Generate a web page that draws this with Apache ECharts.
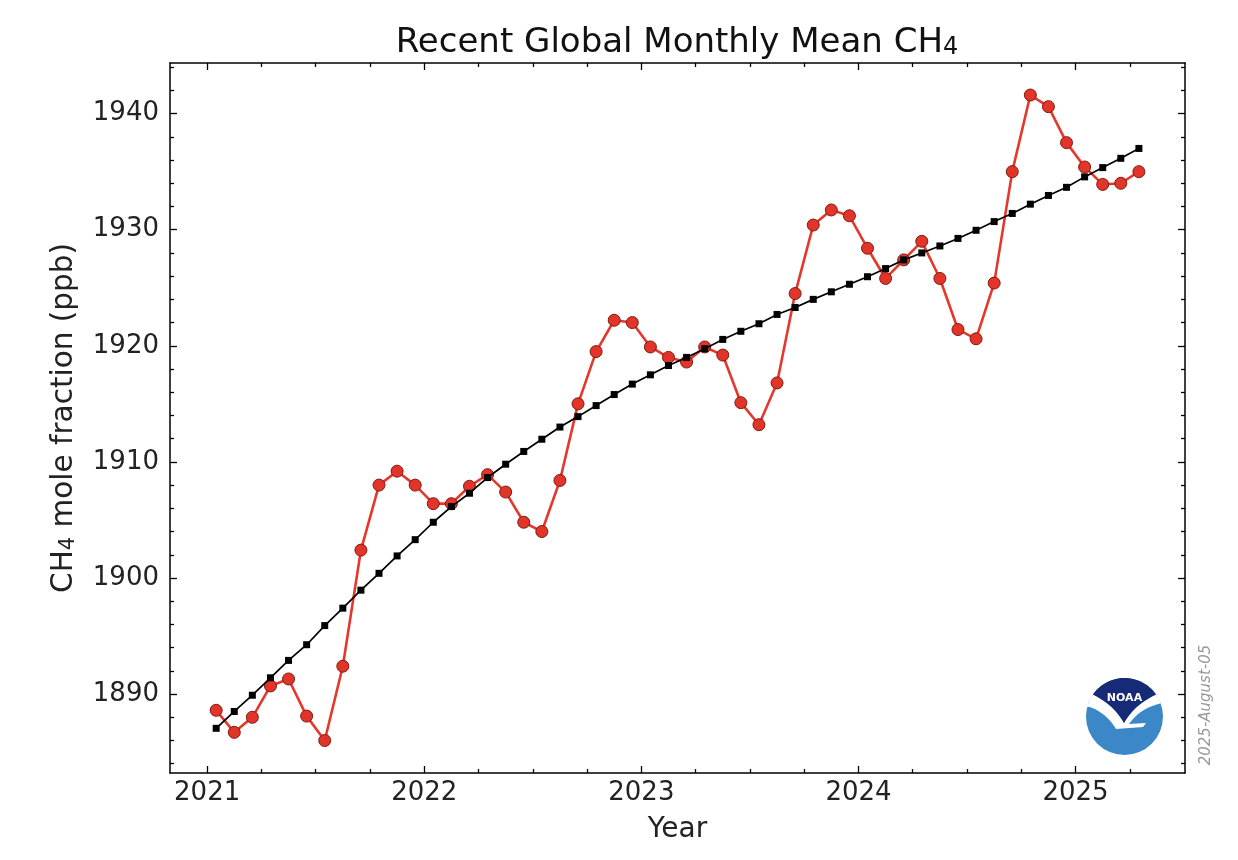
<!DOCTYPE html>
<html>
<head>
<meta charset="utf-8">
<script src="https://cdn.jsdelivr.net/npm/echarts@6/dist/echarts.min.js"></script>
<style>
html,body{margin:0;padding:0;background:#fff;}
#chart{width:1238px;height:860px;}
</style>
</head>
<body>
<div id="chart"></div>
<script>
// Months (Jan 2021 – Apr 2025)
const months = [
  '2021-01','2021-02','2021-03','2021-04','2021-05','2021-06','2021-07','2021-08','2021-09','2021-10','2021-11','2021-12',
  '2022-01','2022-02','2022-03','2022-04','2022-05','2022-06','2022-07','2022-08','2022-09','2022-10','2022-11','2022-12',
  '2023-01','2023-02','2023-03','2023-04','2023-05','2023-06','2023-07','2023-08','2023-09','2023-10','2023-11','2023-12',
  '2024-01','2024-02','2024-03','2024-04','2024-05','2024-06','2024-07','2024-08','2024-09','2024-10','2024-11','2024-12',
  '2025-01','2025-02','2025-03','2025-04'
];
// Monthly mean CH4 (ppb) – red circles
const monthlyMean = [
  1888.6, 1886.7, 1888.0, 1890.7, 1891.3, 1888.1, 1886.0, 1892.4, 1902.4, 1908.0, 1909.2, 1908.0,
  1906.4, 1906.4, 1907.9, 1908.9, 1907.4, 1904.8, 1904.0, 1908.4, 1915.0, 1919.5, 1922.2, 1922.0,
  1919.9, 1919.0, 1918.6, 1919.9, 1919.2, 1915.1, 1913.2, 1916.8, 1924.5, 1930.4, 1931.7, 1931.2,
  1928.4, 1925.8, 1927.4, 1929.0, 1925.8, 1921.4, 1920.6, 1925.4, 1935.0, 1941.6, 1940.6, 1937.5,
  1935.4, 1933.9, 1934.0, 1935.0
];
// Deseasonalized trend (ppb) – black squares
const trend = [
  1887.05, 1888.5, 1889.9, 1891.4, 1892.9, 1894.25, 1895.9, 1897.4, 1898.95, 1900.4, 1901.9, 1903.3,
  1904.8, 1906.15, 1907.3, 1908.65, 1909.8, 1910.9, 1911.95, 1913.0, 1913.9, 1914.85, 1915.8, 1916.7,
  1917.5, 1918.3, 1919.0, 1919.75, 1920.55, 1921.25, 1921.9, 1922.7, 1923.3, 1924.0, 1924.65, 1925.3,
  1925.95, 1926.65, 1927.4, 1928.0, 1928.6, 1929.25, 1929.95, 1930.7, 1931.4, 1932.2, 1932.95, 1933.65,
  1934.55, 1935.35, 1936.15, 1937.0
];
const xTickLabels = [2021, 2022, 2023, 2024, 2025];
const xMinorTicks = [2021.25, 2021.5, 2021.75, 2022.25, 2022.5, 2022.75, 2023.25, 2023.5, 2023.75, 2024.25, 2024.5, 2024.75, 2025.25];
const yTickLabels = [1890, 1900, 1910, 1920, 1930, 1940];
const yMinorTicks = [1884,1886,1888,1892,1894,1896,1898,1902,1904,1906,1908,1912,1914,1916,1918,1922,1924,1926,1928,1932,1934,1936,1938,1942,1944];

function toDecYear(s) {
  const p = s.split('-');
  return +p[0] + (+p[1] - 0.5) / 12;
}
const xs = months.map(toDecYear);
const redData = xs.map((x, i) => [x, monthlyMean[i]]);
const blackData = xs.map((x, i) => [x, trend[i]]);

const XMIN = 2020.829, XMAX = 2025.504, YMIN = 1883.2, YMAX = 1944.36;
const FONT = 'DejaVu Sans';
const frame = { show: true, onZero: false, lineStyle: { color: '#000', width: 1.5 } };

function xAx(pos, ticks, len, labels) {
  return {
    type: 'value', position: pos, min: XMIN, max: XMAX,
    axisLine: len > 5 ? frame : { show: false },
    axisTick: { show: true, inside: true, length: len, customValues: ticks, lineStyle: { color: '#000', width: 1.3 } },
    axisLabel: labels ? { show: true, customValues: ticks, formatter: v => String(Math.round(v)), fontFamily: FONT, fontSize: 26, color: '#222', margin: 7 } : { show: false },
    splitLine: { show: false }
  };
}
function yAx(pos, ticks, len, labels) {
  return {
    type: 'value', position: pos, min: YMIN, max: YMAX,
    axisLine: len > 5 ? frame : { show: false },
    axisTick: { show: true, inside: true, length: len, customValues: ticks, lineStyle: { color: '#000', width: 1.3 } },
    axisLabel: labels ? { show: true, customValues: ticks, formatter: v => String(Math.round(v)), fontFamily: FONT, fontSize: 26, color: '#222', margin: 11 } : { show: false },
    splitLine: { show: false }
  };
}

const xAxes = [
  Object.assign(xAx('bottom', xTickLabels, 7, true), {
    name: 'Year', nameLocation: 'middle', nameGap: 43,
    nameTextStyle: { fontFamily: FONT, fontSize: 28, color: '#222' }
  }),
  xAx('bottom', xMinorTicks, 4, false),
  xAx('top', xTickLabels, 7, false),
  xAx('top', xMinorTicks, 4, false)
];
const yAxes = [
  Object.assign(yAx('left', yTickLabels, 7, true), {
    name: '{a|CH}{s|4}{a| mole fraction (ppb)}', nameLocation: 'middle', nameGap: 91, nameRotate: 90,
    nameTextStyle: {
      fontFamily: FONT, color: '#222',
      rich: {
        a: { fontFamily: FONT, fontSize: 29.5, color: '#222' },
        s: { fontFamily: FONT, fontSize: 21, color: '#222', verticalAlign: 'bottom' }
      }
    }
  }),
  yAx('left', yMinorTicks, 4, false),
  yAx('right', yTickLabels, 7, false),
  yAx('right', yMinorTicks, 4, false)
];

// NOAA logo geometry (decoration)
const LCX = 1124.5, LCY = 716.5, LR = 38.5;
function quad(p0, p1, p2, n) {
  const out = [];
  for (let i = 0; i <= n; i++) {
    const t = i / n, u = 1 - t;
    out.push([u*u*p0[0] + 2*u*t*p1[0] + t*t*p2[0], u*u*p0[1] + 2*u*t*p1[1] + t*t*p2[1]]);
  }
  return out;
}
function arcPts(a0, a1, n) {
  const out = [];
  for (let i = 0; i <= n; i++) {
    const a = (a0 + (a1 - a0) * i / n) * Math.PI / 180;
    out.push([LCX + LR * Math.cos(a), LCY + LR * Math.sin(a)]);
  }
  return out;
}
const darkPts = arcPts(-145, -35, 30)
  .concat(quad([1156, 694.4], [1134, 705], [1124, 723], 12))
  .concat(quad([1124, 723], [1114, 705], [1093, 694.4], 12));
const whitePts = quad([1086.5, 706], [1105, 711], [1116, 729], 12)
  .concat([[1143, 727], [1146, 723], [1129, 724]])
  .concat(quad([1129, 724], [1140, 708], [1162, 703], 12))
  .concat(arcPts(-8, -35, 8))
  .concat(quad([1156, 694.4], [1134, 705], [1124, 723], 12))
  .concat(quad([1124, 723], [1114, 705], [1093, 694.4], 12))
  .concat(arcPts(-145, -172, 8));

const chart = echarts.init(document.getElementById('chart'), null, { renderer: 'canvas' });
chart.setOption({
  backgroundColor: '#fff',
  animation: false,
  grid: { left: 170, right: 53, top: 63, bottom: 87, containLabel: false, outerBoundsMode: 'none' },
  xAxis: xAxes,
  yAxis: yAxes,
  series: [
    {
      type: 'line', name: 'Monthly mean', data: redData, xAxisIndex: 0, yAxisIndex: 0, z: 2,
      symbol: 'circle', symbolSize: 12,
      lineStyle: { color: '#e5382c', width: 2.6 },
      itemStyle: { color: '#e3342a', borderColor: '#7a1d14', borderWidth: 1 }
    },
    {
      type: 'line', name: 'Trend', data: blackData, xAxisIndex: 0, yAxisIndex: 0, z: 3,
      symbol: 'rect', symbolSize: 7,
      lineStyle: { color: '#000', width: 1.7 },
      itemStyle: { color: '#000' }
    }
  ],
  graphic: [
    {
      type: 'text', x: 677, y: 60, z: 10,
      style: {
        text: '{t|Recent Global Monthly Mean CH}{s|4}', align: 'center', verticalAlign: 'bottom',
        rich: {
          t: { fontFamily: FONT, fontSize: 34, fill: '#111' },
          s: { fontFamily: FONT, fontSize: 24, fill: '#111', verticalAlign: 'bottom' }
        }
      }
    },
    {
      type: 'text', x: 1206, y: 705, rotation: Math.PI / 2, z: 10,
      style: { text: '2025-August-05', fontFamily: FONT, fontSize: 15, fontStyle: 'italic', fill: '#999', align: 'center', verticalAlign: 'middle' }
    },
    { type: 'circle', z: 10, shape: { cx: LCX, cy: LCY, r: LR }, style: { fill: '#3c87c8' } },
    { type: 'polygon', z: 11, shape: { points: whitePts }, style: { fill: '#ffffff' } },
    { type: 'polygon', z: 12, shape: { points: darkPts }, style: { fill: '#162a78' } },
    {
      type: 'text', x: LCX, y: 698, z: 13,
      style: { text: 'NOAA', fontFamily: FONT, fontSize: 11, fontWeight: 'bold', fill: '#fff', align: 'center', verticalAlign: 'middle' }
    }
  ]
});
</script>
</body>
</html>
